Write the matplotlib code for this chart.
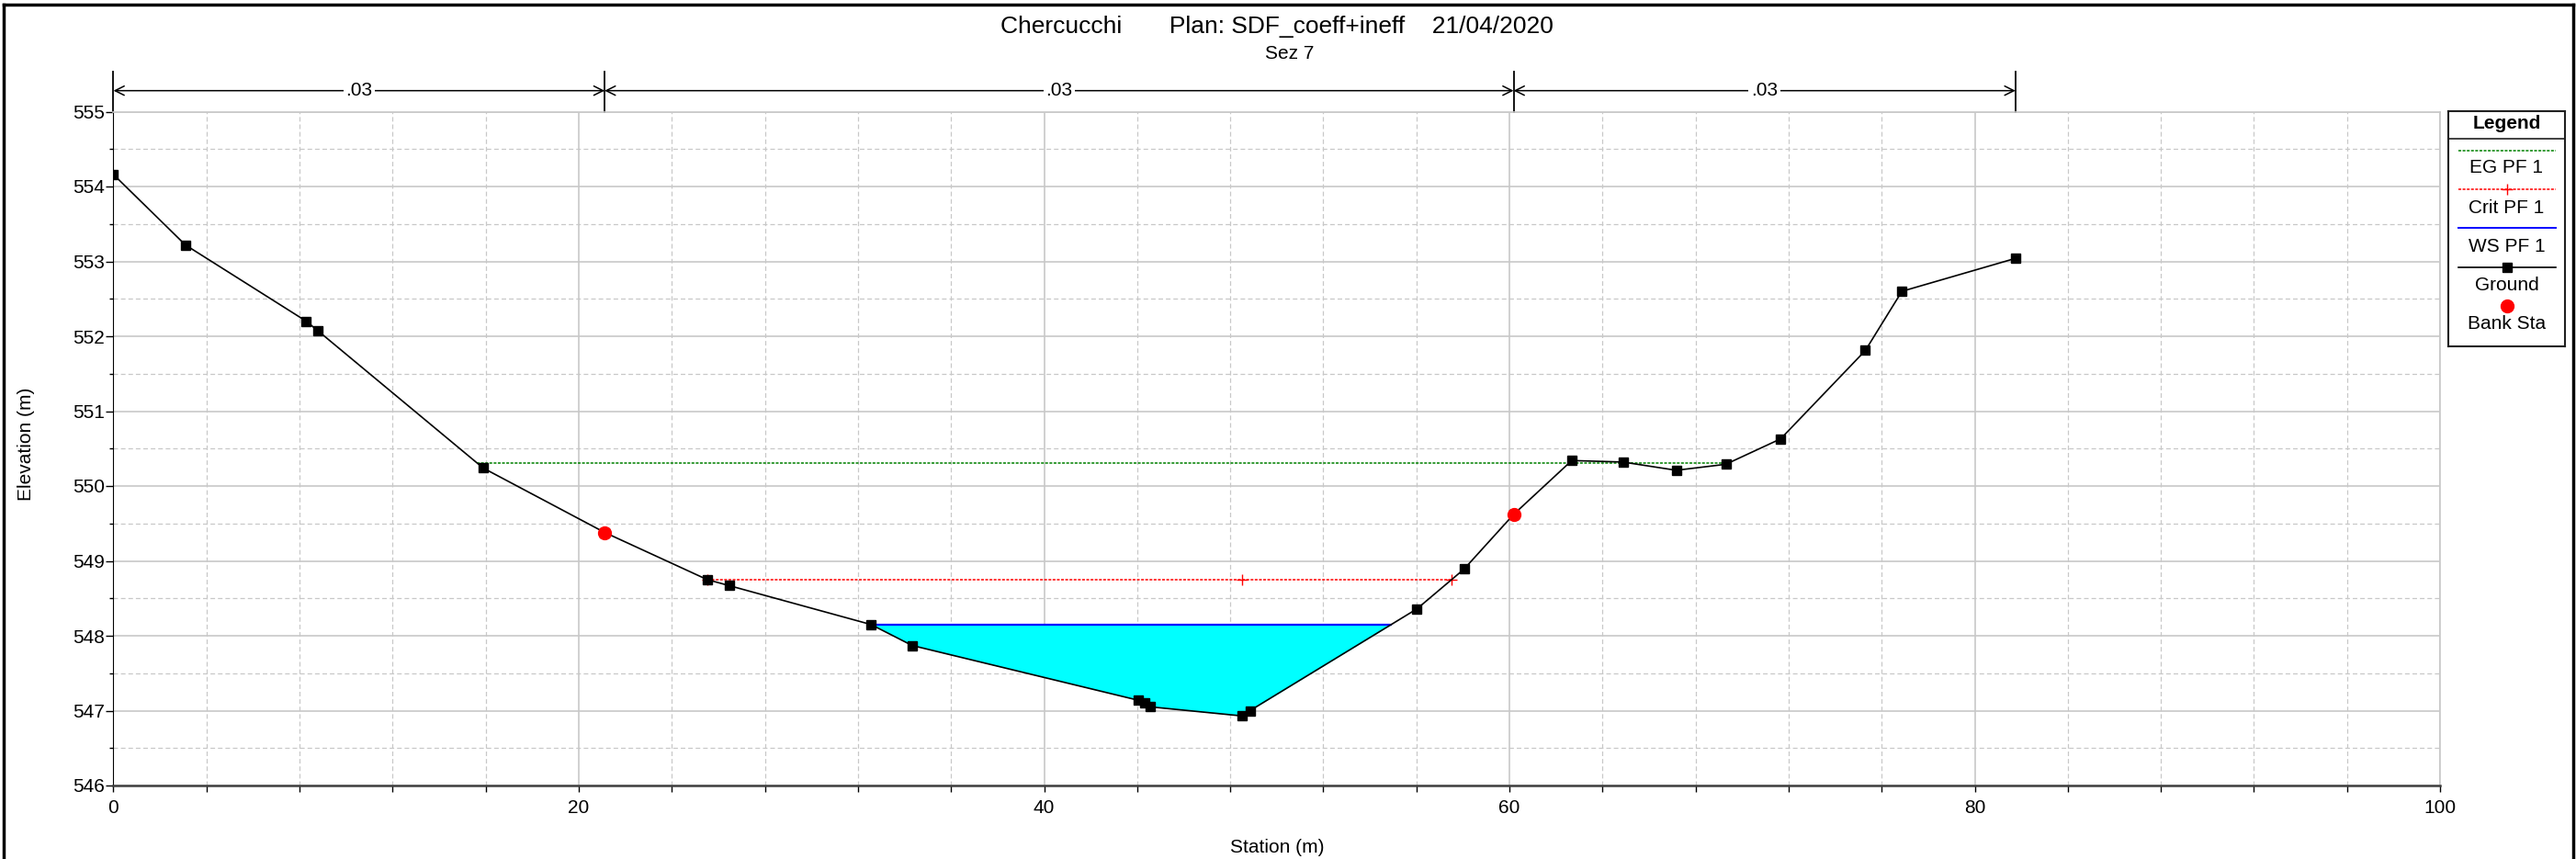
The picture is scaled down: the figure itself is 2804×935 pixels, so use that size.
"""
HEC-RAS style cross section plot: Chercucchi, Sez 7.
"""

import numpy as np
import matplotlib.pyplot as plt
from matplotlib.lines import Line2D
from matplotlib.ticker import MultipleLocator

plt.rcParams['font.family'] = ['Liberation Sans', 'DejaVu Sans']

# Ground profile (station, elevation)
ground_sta = [0.0, 3.09, 8.29, 8.80, 15.89, 21.11, 25.52, 26.46, 32.56, 34.33,
              44.03, 44.31, 44.58, 48.49, 48.85, 56.03, 58.05, 60.18, 62.68,
              64.88, 67.17, 69.30, 71.66, 75.30, 76.87, 81.75]
ground_elev = [554.16, 553.22, 552.20, 552.07, 550.24, 549.38, 548.75, 548.67,
               548.15, 547.87, 547.14, 547.10, 547.05, 546.93, 547.00, 548.36,
               548.89, 549.62, 550.34, 550.32, 550.21, 550.29, 550.63, 551.81,
               552.60, 553.04]

# Bank stations
bank_sta = [21.11, 60.18]
bank_elev = [549.38, 549.62]

# Profile results PF 1
ws_elev = 548.15
crit_elev = 548.75
crit_sta = [25.52, 48.49, 57.52]
eg_elev = 550.31
eg_sta = [15.62, 69.44]

# Manning's n regions
n_breaks = [0.0, 21.11, 60.18, 81.75]
n_values = ['.03', '.03', '.03']

title = "Chercucchi       Plan: SDF_coeff+ineff    21/04/2020"
subtitle = "Sez 7"

W, H = 2804, 935
GRID = '#c8c8c8'


def main():
    fig = plt.figure(figsize=(W / 100, H / 100), dpi=100, facecolor='white')
    ax = fig.add_axes([123.5 / W, 1 - 855 / H, (2656 - 123.5) / W, (855 - 121.5) / H])

    ax.set_xlim(0, 100)
    ax.set_ylim(546, 555)
    ax.xaxis.set_major_locator(MultipleLocator(20))
    ax.xaxis.set_minor_locator(MultipleLocator(4))
    ax.yaxis.set_major_locator(MultipleLocator(1))
    ax.yaxis.set_minor_locator(MultipleLocator(0.5))

    ax.grid(which='major', color=GRID, lw=1.2, ls='-', zorder=0)
    ax.grid(which='minor', color=GRID, lw=0.9, ls=(0, (4, 2.5)), zorder=0)
    ax.set_axisbelow(True)

    ax.tick_params(axis='x', which='both', direction='out', length=5, width=1,
                   labelsize=15, pad=6)
    ax.tick_params(axis='y', which='major', direction='out', length=6, width=1,
                   labelsize=15, pad=1)
    ax.tick_params(axis='y', which='minor', direction='out', length=3, width=1)

    for side in ('top', 'right'):
        ax.spines[side].set_color(GRID)
        ax.spines[side].set_linewidth(1.2)
    ax.spines['left'].set_color('black')
    ax.spines['bottom'].set_color('#404040')
    ax.spines['bottom'].set_linewidth(1.8)

    # water fill below WS
    xf = np.linspace(min(ground_sta), max(ground_sta), 4000)
    gf = np.interp(xf, ground_sta, ground_elev)
    wet = gf <= ws_elev
    ax.fill_between(xf, gf, ws_elev, where=wet, interpolate=True,
                    color='#00ffff', lw=0, zorder=2)

    # EG and critical lines
    ax.plot(eg_sta, [eg_elev] * len(eg_sta), color='green', lw=1.1,
            ls=(0, (2, 1)), zorder=2)
    ax.plot(crit_sta, [crit_elev] * len(crit_sta), color='red', lw=1.1,
            ls=(0, (2, 1)), marker='+', ms=8, mew=1, zorder=3)

    # water surface
    ax.plot([xf[wet].min(), xf[wet].max()], [ws_elev, ws_elev],
            color='#0000ff', lw=1.6, zorder=4)

    # ground and banks
    ax.plot(ground_sta, ground_elev, color='black', lw=1.2, marker='s', ms=6.5,
            zorder=5)
    ax.plot(bank_sta, bank_elev, ls='none', marker='o', ms=10, color='red',
            mec='red', zorder=6)

    # Manning's n bars above the plot
    y_bar = 555.28
    for b in n_breaks:
        ax.plot([b, b], [555.0, 555.53], color='black', lw=1.3, clip_on=False)
    for b0, b1, n in zip(n_breaks[:-1], n_breaks[1:], n_values):
        ax.annotate('', xy=(b0, y_bar), xytext=(b1, y_bar),
                    arrowprops=dict(arrowstyle='<->', lw=1.1, color='black',
                                    shrinkA=0, shrinkB=0, mutation_scale=18),
                    annotation_clip=False)
        ax.text((b0 + b1) / 2, y_bar, n, ha='center', va='center', fontsize=15,
                bbox=dict(facecolor='white', edgecolor='none', pad=2),
                clip_on=False)

    # titles and axis labels
    fig.text(1390 / W, 1 - 29 / H, title, ha='center', va='center', fontsize=19)
    fig.text(1404 / W, 1 - 59 / H, subtitle, ha='center', va='center', fontsize=15)
    fig.text(1390 / W, 1 - 922 / H, 'Station (m)', ha='center', va='center',
             fontsize=15)
    fig.text(29 / W, 1 - 483 / H, 'Elevation (m)', ha='center', va='center',
             fontsize=15, rotation=90)

    # legend box, in pixel coordinates
    L, R, T, B = 2665, 2792, 121, 377
    lax = fig.add_axes([L / W, 1 - B / H, (R - L) / W, (B - T) / H])
    lax.set_xlim(L, R)
    lax.set_ylim(B, T)
    lax.set_xticks([])
    lax.set_yticks([])
    for sp in lax.spines.values():
        sp.set_color('#202020')
        sp.set_linewidth(1.5)
    cx = (L + R) / 2
    x0, x1 = 2676, 2782
    lax.text(cx, 134, 'Legend', ha='center', va='center', fontsize=15,
             fontweight='bold')
    lax.plot([L, R], [151, 151], color='#202020', lw=1.2)
    lax.plot([x0, x1], [164, 164], color='green', lw=1.1, ls=(0, (2, 1)))
    lax.plot([x0, cx, x1], [206, 206, 206], color='red', lw=1.1,
             ls=(0, (2, 1)), marker='+', ms=8, markevery=[1])
    lax.plot([x0, x1], [248, 248], color='#0000ff', lw=1.4)
    lax.plot([x0, cx, x1], [291, 291, 291], color='black', lw=1.2, marker='s',
             ms=6.5, markevery=[1])
    lax.plot([cx], [333], marker='o', ms=10, color='red', ls='none')
    for y, lab in [(183, 'EG PF 1'), (226, 'Crit PF 1'), (268, 'WS PF 1'),
                   (311, 'Ground'), (353, 'Bank Sta')]:
        lax.text(cx, y, lab, ha='center', va='center', fontsize=15)

    # outer frame
    for xs, ys in [([4 / W, 4 / W], [-0.1, 1 - 5 / H]),
                   ([4 / W, 2801 / W], [1 - 5 / H, 1 - 5 / H]),
                   ([2801 / W, 2801 / W], [-0.1, 1 - 5 / H])]:
        fig.add_artist(Line2D(xs, ys, color='black', lw=2.5,
                              transform=fig.transFigure))

    fig.savefig('out.png', dpi=100, facecolor='white')
    plt.close(fig)


if __name__ == '__main__':
    main()
